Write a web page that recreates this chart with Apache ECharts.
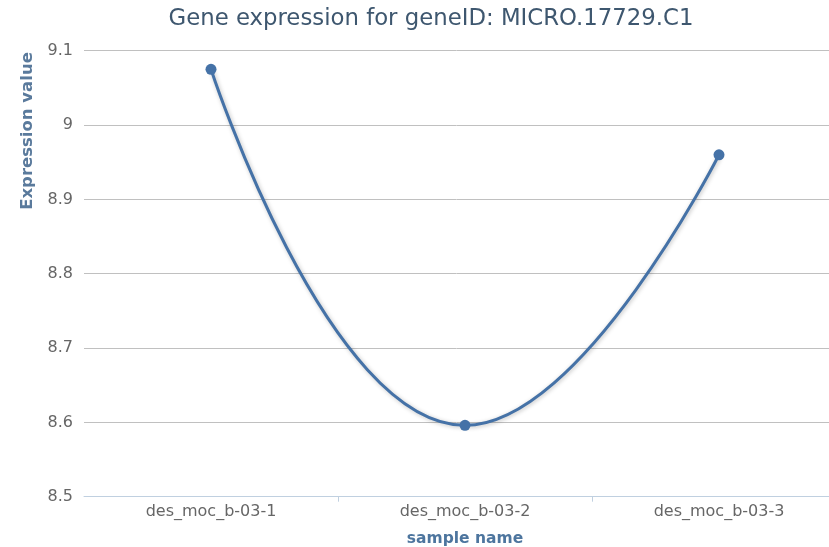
<!DOCTYPE html>
<html><head><meta charset="utf-8">
<script src="https://cdn.jsdelivr.net/npm/echarts@6/dist/echarts.min.js"></script>
<style>html,body{margin:0;padding:0;background:#fff}#c{width:829px;height:547px}</style>
</head><body><div id="c"></div>
<script>
const categories = ["des_moc_b-03-1", "des_moc_b-03-2", "des_moc_b-03-3"];
const values = [9.075, 8.596, 8.960];
const yTicks = { min: 8.5, max: 9.1, interval: 0.1 };
const titleText = "Gene expression for geneID: MICRO.17729.C1";
const xTitle = "sample name";
const yTitle = "Expression value";

// The original plot is wider than the picture (its right edge is cut off):
// each category band is 254px wide, the plot starts at x=84.
const plotLeft = 84, bandPx = 254, visibleWidth = 829 - plotLeft;
const catIdx = categories.map((c, i) => i);

const chart = echarts.init(document.getElementById('c'), null, { renderer: 'canvas' });
chart.setOption({
  animation: false,
  title: {
    text: titleText, left: 426, textAlign: 'center', top: 3,
    textStyle: { fontFamily: 'DejaVu Sans', fontWeight: 'normal', fontSize: 22.8, color: '#3E576F' }
  },
  grid: { left: plotLeft, right: 0, top: 50.7, height: 446, outerBoundsMode: 'none', containLabel: false },
  xAxis: {
    type: 'value', min: -0.5, max: -0.5 + visibleWidth / bandPx,
    name: xTitle, nameLocation: 'middle', nameGap: 34,
    nameTextStyle: { fontFamily: 'DejaVu Sans', fontWeight: 'bold', fontSize: 15.5, color: '#4D759E', padding: [0, 0, 0, 2 * (465 - (plotLeft + visibleWidth / 2))] },
    axisLine: { show: true, onZero: false, lineStyle: { color: '#C0D0E0', width: 1 } },
    axisTick: { show: true, length: 5, customValues: catIdx.slice(0, -1).map(i => i + 0.5), lineStyle: { color: '#C0D0E0' } },
    axisLabel: { fontFamily: 'DejaVu Sans', fontSize: 16, color: '#666', margin: 7,
      customValues: catIdx, formatter: v => categories[Math.round(v)] },
    splitLine: { show: false }
  },
  yAxis: {
    type: 'value', min: yTicks.min, max: yTicks.max, interval: yTicks.interval,
    axisLine: { show: false }, axisTick: { show: false },
    axisLabel: { fontFamily: 'DejaVu Sans', fontSize: 16, color: '#666', margin: 11,
      formatter: v => String(Math.round(v * 10) / 10) },
    splitLine: { lineStyle: { color: '#C0C0C0', width: 1 } }
  },
  graphic: [{
    type: 'text', x: 28, y: 131, rotation: Math.PI / 2,
    style: { text: yTitle, fontFamily: 'DejaVu Sans', fontWeight: 'bold', fontSize: 16.5, fill: '#5A7A9C',
      textAlign: 'center', textVerticalAlign: 'middle' }
  }],
  series: [{
    type: 'line', data: catIdx.map(i => [i, values[i]]), smooth: 0.5,
    symbol: 'circle', symbolSize: 11,
    lineStyle: { color: '#4572A7', width: 3, shadowColor: 'rgba(0,0,0,0.25)', shadowBlur: 4, shadowOffsetX: 1, shadowOffsetY: 1 },
    itemStyle: { color: '#4572A7' }
  }]
});
</script></body></html>
